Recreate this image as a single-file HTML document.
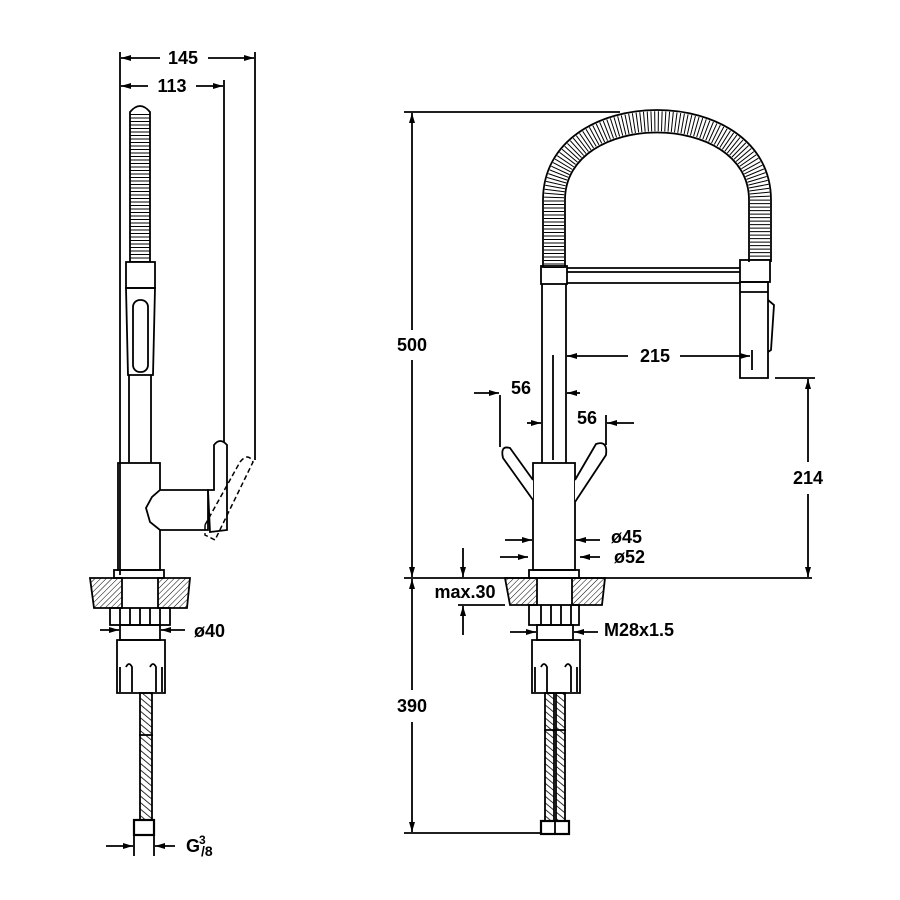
<!DOCTYPE html>
<html><head><meta charset="utf-8"><style>body{margin:0;background:#fff}svg{display:block}</style></head><body>
<svg width="900" height="900" viewBox="0 0 900 900" xmlns="http://www.w3.org/2000/svg" font-family="Liberation Sans, sans-serif" font-weight="bold">
<defs>
<pattern id="h" width="4" height="4" patternUnits="userSpaceOnUse" patternTransform="rotate(45)"><line x1="0" y1="0" x2="0" y2="4" stroke="#000" stroke-width="1"/></pattern>
<pattern id="b" width="5" height="5" patternUnits="userSpaceOnUse" patternTransform="rotate(-50)"><line x1="0" y1="0" x2="0" y2="5" stroke="#000" stroke-width="1.6"/></pattern>
<marker id="a" markerWidth="10" markerHeight="6" refX="10" refY="3" orient="auto" markerUnits="userSpaceOnUse"><path d="M0,0 L10,3 L0,6z" fill="#000"/></marker>
</defs>
<g fill="none" stroke="#000" stroke-width="1.8">
<line x1="120" y1="52" x2="120" y2="575"/>
<line x1="255" y1="52" x2="255" y2="460"/>
<line x1="224" y1="80" x2="224" y2="455"/>
<line x1="160" y1="58" x2="121" y2="58" marker-end="url(#a)"/>
<line x1="208" y1="58" x2="254" y2="58" marker-end="url(#a)"/>
<line x1="148" y1="86" x2="121" y2="86" marker-end="url(#a)"/>
<line x1="196" y1="86" x2="223" y2="86" marker-end="url(#a)"/>
<path d="M140,262 L140,112" stroke-width="20" stroke="#000" stroke-dasharray="1 2.5" stroke-width="1"/>
<path d="M130,262 L130,112 Q140,100 150,112 L150,262"/>
<rect x="126" y="262" width="29" height="26"/>
<path d="M126,288 L155,288 L153,375 L128,375 Z"/>
<rect x="133" y="300" width="15" height="72" rx="7"/>
<line x1="129" y1="375" x2="129" y2="463"/><line x1="151" y1="375" x2="151" y2="463"/>
<rect x="118" y="463" width="42" height="107"/>
<path d="M160,490 L208,490 L208,530 L160,530 L150,522 L146,508 L152,497 Z" fill="#fff"/>
<path d="M208,490 L214,490 L214,445 Q220,437 227,445 L227,530 L210,532 Z" fill="#fff"/>
<path d="M205,525 L240,462 Q248,452 253,462 L215,540 L205,535 Z" stroke-dasharray="5 3" stroke-width="1.5"/>
<rect x="114" y="570" width="50" height="8"/>
<path d="M90,578 L122,578 L122,608 L94,608 Z M158,578 L190,578 L187,608 L158,608 Z" fill="url(#h)"/>
<rect x="110" y="608" width="60" height="17"/>
<path d="M120,608v17M130,608v17M140,608v17M150,608v17M160,608v17"/>
<rect x="120" y="625" width="40" height="15"/>
<path d="M117,640 L165,640 L165,693 L117,693 Z"/>
<path d="M120,667 v25 M126,667 q3,-6 6,0 v25 M150,667 q3,-6 6,0 v25 M162,667 v25"/>
<rect x="140" y="693" width="12" height="127" fill="url(#b)"/>
<line x1="139" y1="735" x2="153" y2="735"/>
<rect x="134" y="820" width="20" height="15" stroke-width="2.2"/>
<line x1="100" y1="630" x2="119" y2="630" marker-end="url(#a)"/>
<line x1="185" y1="630" x2="161" y2="630" marker-end="url(#a)"/>
<line x1="106" y1="846" x2="133" y2="846" marker-end="url(#a)"/>
<line x1="175" y1="846" x2="155" y2="846" marker-end="url(#a)"/>
<line x1="134" y1="836" x2="134" y2="856"/><line x1="154" y1="836" x2="154" y2="856"/>
<line x1="404" y1="112" x2="620" y2="112"/>
<line x1="404" y1="578" x2="812" y2="578"/>
<line x1="404" y1="833" x2="540" y2="833"/>
<line x1="412" y1="330" x2="412" y2="113" marker-end="url(#a)"/>
<line x1="412" y1="360" x2="412" y2="577" marker-end="url(#a)"/>
<line x1="412" y1="690" x2="412" y2="579" marker-end="url(#a)"/>
<line x1="412" y1="722" x2="412" y2="832" marker-end="url(#a)"/>
<line x1="775" y1="378" x2="815" y2="378"/>
<line x1="808" y1="462" x2="808" y2="379" marker-end="url(#a)"/>
<line x1="808" y1="494" x2="808" y2="577" marker-end="url(#a)"/>
<path d="M554,268 L554,200 C554,95 760,95 760,200 L760,262" stroke-width="20" stroke-dasharray="1 2.5"/>
<path d="M543,268 L543,200 C543,80 771,80 771,200 L771,262"/>
<path d="M565,268 L565,200 C565,110 749,110 749,200 L749,262"/>
<rect x="541" y="266" width="26" height="18"/>
<path d="M567,268 L740,268 M567,283 L740,283 M567,272 L740,272"/>
<rect x="740" y="260" width="30" height="22"/>
<path d="M740,282 L768,282 L768,378 L740,378 Z"/>
<line x1="740" y1="292" x2="768" y2="292"/>
<path d="M768,300 L774,305 L771,350 L768,352"/>
<line x1="542" y1="284" x2="542" y2="463"/><line x1="566" y1="284" x2="566" y2="463"/>
<line x1="553" y1="355" x2="553" y2="460"/>
<line x1="570" y1="356" x2="567" y2="356" marker-end="url(#a)"/>
<line x1="571" y1="356" x2="628" y2="356"/>
<line x1="680" y1="356" x2="750" y2="356" marker-end="url(#a)"/>
<line x1="752" y1="350" x2="752" y2="370"/>
<line x1="500" y1="395" x2="500" y2="447"/>
<line x1="474" y1="393" x2="499" y2="393" marker-end="url(#a)"/>
<line x1="580" y1="393" x2="567" y2="393" marker-end="url(#a)"/>
<line x1="527" y1="423" x2="541" y2="423" marker-end="url(#a)"/>
<line x1="634" y1="423" x2="607" y2="423" marker-end="url(#a)"/>
<line x1="606" y1="415" x2="606" y2="445"/>
<rect x="533" y="463" width="42" height="107"/>
<path d="M533,480 L510,448 Q500,445 503,458 L533,500" fill="#fff"/>
<path d="M575,480 L596,444 Q608,440 606,455 L575,502" fill="#fff"/>
<line x1="505" y1="540" x2="532" y2="540" marker-end="url(#a)"/>
<line x1="600" y1="540" x2="576" y2="540" marker-end="url(#a)"/>
<line x1="500" y1="557" x2="528" y2="557" marker-end="url(#a)"/>
<line x1="600" y1="557" x2="580" y2="557" marker-end="url(#a)"/>
<rect x="529" y="570" width="50" height="8"/>
<path d="M505,578 L537,578 L537,605 L510,605 Z M572,578 L605,578 L602,605 L572,605 Z" fill="url(#h)"/>
<line x1="458" y1="605" x2="505" y2="605"/>
<line x1="463" y1="548" x2="463" y2="577" marker-end="url(#a)"/>
<line x1="463" y1="635" x2="463" y2="606" marker-end="url(#a)"/>
<rect x="529" y="605" width="50" height="20"/>
<path d="M541,605v20M551,605v20M561,605v20M571,605v20"/>
<rect x="537" y="625" width="36" height="15"/>
<line x1="510" y1="632" x2="536" y2="632" marker-end="url(#a)"/>
<line x1="598" y1="632" x2="574" y2="632" marker-end="url(#a)"/>
<path d="M532,640 L580,640 L580,693 L532,693 Z"/>
<path d="M535,667 v25 M541,667 q3,-6 6,0 v25 M565,667 q3,-6 6,0 v25 M577,667 v25"/>
<rect x="545" y="693" width="9" height="128" fill="url(#b)"/>
<rect x="556" y="693" width="9" height="128" fill="url(#b)"/>
<line x1="544" y1="730" x2="566" y2="730"/>
<rect x="541" y="821" width="28" height="13" stroke-width="2.2"/>
<line x1="555" y1="821" x2="555" y2="834"/>
</g>
<g font-size="18" fill="#000">
<text x="183" y="64" text-anchor="middle">145</text>
<text x="172" y="92" text-anchor="middle">113</text>
<text x="194" y="637">ø40</text>
<text x="186" y="852">G</text><text x="199" y="844" font-size="12">3</text><text x="201" y="856" font-size="14">/8</text>
<text x="412" y="351" text-anchor="middle" style="paint-order:stroke" stroke="#fff" stroke-width="6">500</text>
<text x="412" y="712" text-anchor="middle">390</text>
<text x="808" y="484" text-anchor="middle">214</text>
<text x="655" y="362" text-anchor="middle">215</text>
<text x="521" y="394" text-anchor="middle">56</text>
<text x="587" y="424" text-anchor="middle">56</text>
<text x="611" y="543">ø45</text>
<text x="614" y="563">ø52</text>
<text x="465" y="598" text-anchor="middle">max.30</text>
<text x="604" y="636">M28x1.5</text>
</g>
</svg>
</body></html>
